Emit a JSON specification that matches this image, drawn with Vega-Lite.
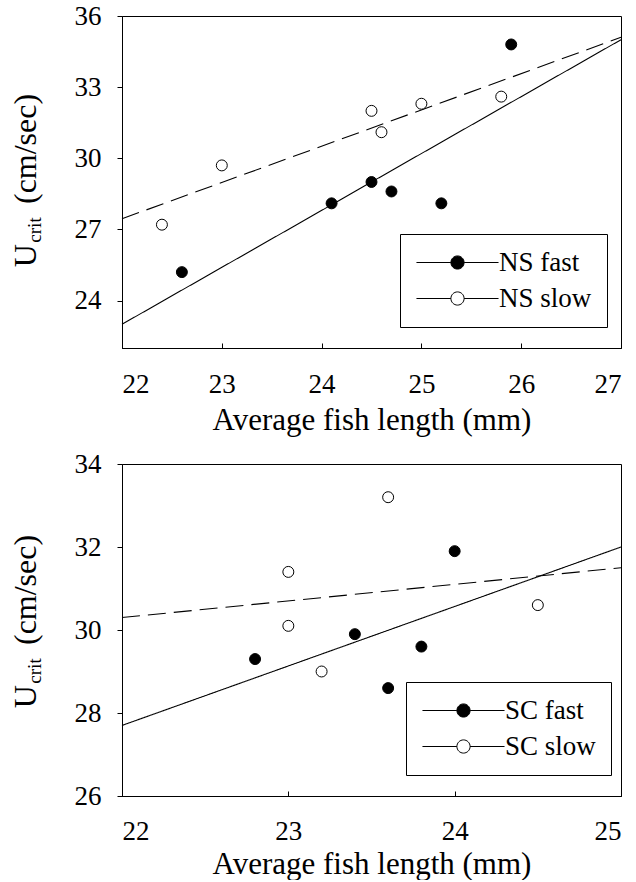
{
  "$schema": "https://vega.github.io/schema/vega-lite/v6.json",
  "padding": {"left": 8, "top": 1, "right": 0, "bottom": 0},
  "background": "white",
  "spacing": 13,
  "resolve": {"scale": {"fill": "independent", "strokeDash": "independent"}, "legend": {"fill": "independent", "strokeDash": "independent"}},
  "datasets": {
    "ns_points": [
      {"length": 22.6, "ucrit": 25.2, "series": "NS fast"},
      {"length": 24.1, "ucrit": 28.1, "series": "NS fast"},
      {"length": 24.5, "ucrit": 29.0, "series": "NS fast"},
      {"length": 24.7, "ucrit": 28.6, "series": "NS fast"},
      {"length": 25.2, "ucrit": 28.1, "series": "NS fast"},
      {"length": 25.9, "ucrit": 34.8, "series": "NS fast"},
      {"length": 22.4, "ucrit": 27.2, "series": "NS slow"},
      {"length": 23.0, "ucrit": 29.7, "series": "NS slow"},
      {"length": 24.5, "ucrit": 32.0, "series": "NS slow"},
      {"length": 24.6, "ucrit": 31.1, "series": "NS slow"},
      {"length": 25.0, "ucrit": 32.3, "series": "NS slow"},
      {"length": 25.8, "ucrit": 32.6, "series": "NS slow"}
    ],
    "ns_lines": [
      {"length": 22, "ucrit": 23.0, "series": "NS fast"},
      {"length": 27, "ucrit": 35.0, "series": "NS fast"},
      {"length": 22, "ucrit": 27.45, "series": "NS slow"},
      {"length": 27, "ucrit": 35.1, "series": "NS slow"}
    ],
    "sc_points": [
      {"length": 22.8, "ucrit": 29.3, "series": "SC fast"},
      {"length": 23.4, "ucrit": 29.9, "series": "SC fast"},
      {"length": 23.6, "ucrit": 28.6, "series": "SC fast"},
      {"length": 23.8, "ucrit": 29.6, "series": "SC fast"},
      {"length": 24.0, "ucrit": 31.9, "series": "SC fast"},
      {"length": 23.0, "ucrit": 31.4, "series": "SC slow"},
      {"length": 23.0, "ucrit": 30.1, "series": "SC slow"},
      {"length": 23.2, "ucrit": 29.0, "series": "SC slow"},
      {"length": 23.6, "ucrit": 33.2, "series": "SC slow"},
      {"length": 24.5, "ucrit": 30.6, "series": "SC slow"}
    ],
    "sc_lines": [
      {"length": 22, "ucrit": 27.7, "series": "SC fast"},
      {"length": 25, "ucrit": 32.0, "series": "SC fast"},
      {"length": 22, "ucrit": 30.3, "series": "SC slow"},
      {"length": 25, "ucrit": 31.5, "series": "SC slow"}
    ]
  },
  "vconcat": [
    {
      "width": 499,
      "height": 332,
      "layer": [
        {
          "data": {"name": "ns_lines"},
          "mark": {"type": "line", "color": "black", "strokeWidth": 1.1},
          "encoding": {
            "x": {"field": "length", "type": "quantitative", "scale": {"domain": [22, 27], "nice": false},
                  "axis": {"values": [22, 23, 24, 25, 26, 27], "format": "d", "tickSize": -5, "labelPadding": 28, "titlePadding": 8, "title": "Average fish length (mm)"}},
            "y": {"field": "ucrit", "type": "quantitative", "scale": {"domain": [22, 36], "nice": false, "zero": false},
                  "axis": {"values": [24, 27, 30, 33, 36], "tickSize": 5, "labelPadding": 16, "title": "U\u00a0\u00a0\u00a0\u00a0\u00a0(cm/sec)", "titleX": -87, "titleY": 164, "titleBaseline": "alphabetic", "titleAngle": 270, "titleAlign": "center", "titleFontSize": 32}},
            "strokeDash": {"field": "series", "type": "nominal", "scale": {"range": [[1, 0], [18, 8]]}, "legend": null}
          }
        },
        {
          "data": {"name": "ns_points"},
          "mark": {"type": "point", "filled": true, "stroke": "black", "strokeWidth": 1, "opacity": 1, "size": 120},
          "encoding": {
            "x": {"field": "length", "type": "quantitative"},
            "y": {"field": "ucrit", "type": "quantitative",
                  "axis": {"orient": "left", "labels": false, "ticks": false, "domain": false, "grid": false, "title": "crit", "titleX": -82, "titleY": 213.5, "titleFontSize": 19, "titleBaseline": "alphabetic", "titleAngle": 270, "titleAlign": "center"}},
            "fill": {"field": "series", "type": "nominal", "scale": {"domain": ["NS fast", "NS slow"], "range": ["black", "white"]},
              "legend": {
                "orient": "none", "legendX": 278, "legendY": 218, "title": null,
                "strokeColor": "black", "padding": 15,
                "labelFontSize": 27, "labelColor": "black",
                "symbolSize": 576, "symbolOffset": 29, "labelOffset": 28, "rowPadding": 8,
                "symbolType": "M-3.42,0H-0.55M0.55,0H3.42M0.55,0A0.55,0.55 0 1,1 -0.55,0A0.55,0.55 0 1,1 0.55,0",
                "symbolStrokeColor": "black", "symbolStrokeWidth": 1
              }}
          }
        }
      ],
      "resolve": {"axis": {"y": "independent"}}
    },
    {
      "width": 499,
      "height": 332,
      "layer": [
        {
          "data": {"name": "sc_lines"},
          "mark": {"type": "line", "color": "black", "strokeWidth": 1.1},
          "encoding": {
            "x": {"field": "length", "type": "quantitative", "scale": {"domain": [22, 25], "nice": false},
                  "axis": {"values": [22, 23, 24, 25], "format": "d", "tickSize": -5, "labelPadding": 27, "titlePadding": 5, "title": "Average fish length (mm)"}},
            "y": {"field": "ucrit", "type": "quantitative", "scale": {"domain": [26, 34], "nice": false, "zero": false},
                  "axis": {"values": [26, 28, 30, 32, 34], "tickSize": 5, "labelPadding": 16, "title": "U\u00a0\u00a0\u00a0\u00a0\u00a0(cm/sec)", "titleX": -87, "titleY": 157, "titleBaseline": "alphabetic", "titleAngle": 270, "titleAlign": "center", "titleFontSize": 32}},
            "strokeDash": {"field": "series", "type": "nominal", "scale": {"range": [[1, 0], [18, 8]]}, "legend": null}
          }
        },
        {
          "data": {"name": "sc_points"},
          "mark": {"type": "point", "filled": true, "stroke": "black", "strokeWidth": 1, "opacity": 1, "size": 120},
          "encoding": {
            "x": {"field": "length", "type": "quantitative"},
            "y": {"field": "ucrit", "type": "quantitative",
                  "axis": {"orient": "left", "labels": false, "ticks": false, "domain": false, "grid": false, "title": "crit", "titleX": -82, "titleY": 206.5, "titleFontSize": 19, "titleBaseline": "alphabetic", "titleAngle": 270, "titleAlign": "center"}},
            "fill": {"field": "series", "type": "nominal", "scale": {"domain": ["SC fast", "SC slow"], "range": ["black", "white"]},
              "legend": {
                "orient": "none", "legendX": 284, "legendY": 218, "title": null,
                "strokeColor": "black", "padding": 15,
                "labelFontSize": 27, "labelColor": "black",
                "symbolSize": 576, "symbolOffset": 29, "labelOffset": 28, "rowPadding": 8,
                "symbolType": "M-3.42,0H-0.55M0.55,0H3.42M0.55,0A0.55,0.55 0 1,1 -0.55,0A0.55,0.55 0 1,1 0.55,0",
                "symbolStrokeColor": "black", "symbolStrokeWidth": 1
              }}
          }
        }
      ],
      "resolve": {"axis": {"y": "independent"}}
    }
  ],
  "config": {
    "font": "Liberation Serif",
    "view": {"stroke": "black", "strokeWidth": 1},
    "axis": {
      "grid": false,
      "domainColor": "black", "domainWidth": 1,
      "tickColor": "black", "tickWidth": 1,
      "labelColor": "black", "titleColor": "black",
      "labelFont": "Liberation Serif",
      "titleFont": "Liberation Serif",
      "labelFontSize": 27, "titleFontSize": 31, "titleFontWeight": "normal"
    },
    "legend": {"labelFont": "Liberation Serif", "labelColor": "black"}
  }
}
